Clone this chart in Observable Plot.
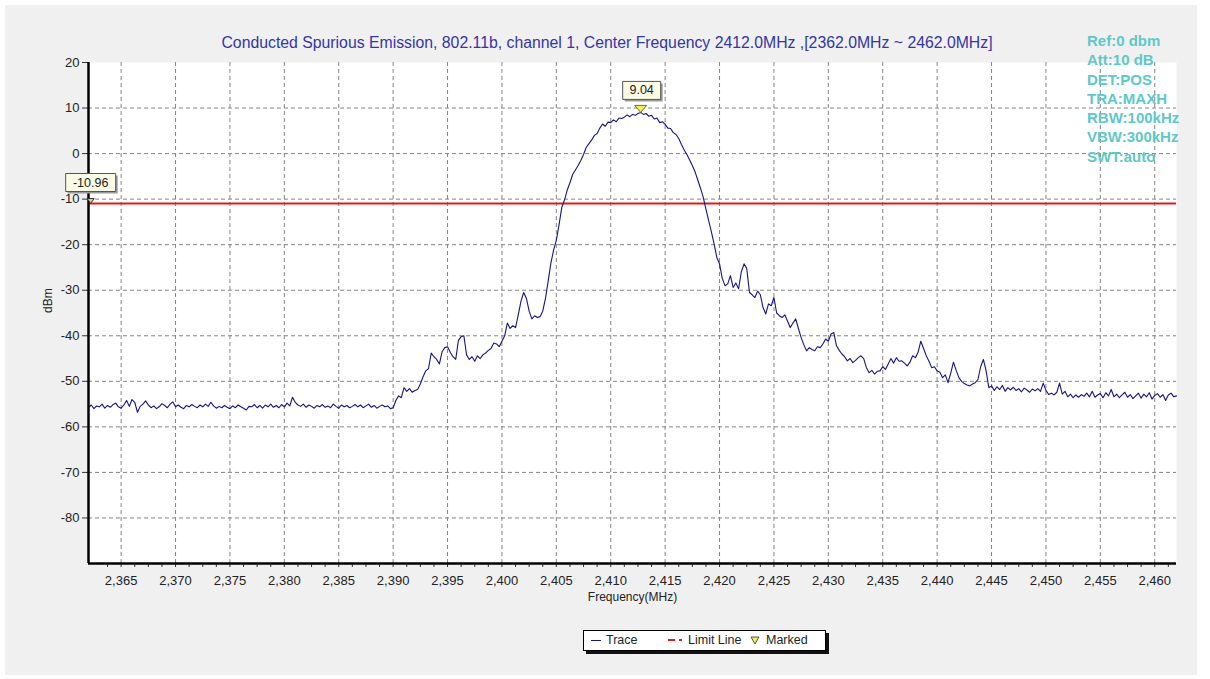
<!DOCTYPE html>
<html><head><meta charset="utf-8">
<script src="https://cdn.jsdelivr.net/npm/d3@7"></script>
<script src="https://cdn.jsdelivr.net/npm/@observablehq/plot@0.6"></script>
<style>
html,body{margin:0;padding:0;background:#fff;}
#wrap{position:relative;width:1210px;height:679px;overflow:hidden;font-family:Arial,"Liberation Sans",sans-serif;}
#bg{position:absolute;left:5px;top:5px;width:1192px;height:670px;background:#f0f0f0;}
#chart{position:absolute;left:0;top:0;}
#title{position:absolute;left:607px;top:34px;transform:translateX(-50%);white-space:nowrap;font-size:15.8px;color:#3535a8;}
#info{position:absolute;left:1087px;top:31px;font-size:15px;font-weight:bold;line-height:19.3px;color:#5ec8c9;white-space:nowrap;}
#legend{position:absolute;left:583px;top:630px;width:241px;height:19px;background:#fff;border:1px solid #000;box-shadow:3px 3px 0 #111;font-size:12.5px;color:#222;}
#legend span{position:absolute;top:2px;white-space:nowrap;}
</style></head>
<body>
<div id="wrap">
<div id="bg"></div>
<div id="chart"></div>
<div id="title"></div>
<div id="info"></div>
<div id="legend"></div>
</div>
<script>
// ---- data ----
const titleText = "Conducted Spurious Emission, 802.11b, channel 1, Center Frequency 2412.0MHz ,[2362.0MHz ~ 2462.0MHz]";
const infoLines = ["Ref:0 dbm","Att:10 dB","DET:POS","TRA:MAXH","RBW:100kHz","VBW:300kHz","SWT:auto"];
const freqStart = 2362;
const freqStep = 0.25;
const traceDbm = [
-55.8,-55.2,-56.0,-55.4,-55.6,-55.0,-55.9,-55.3,-55.7,-55.1,-54.8,-55.6,-55.9,-55.2,-54.2,-55.5,-54.0,-54.6,-56.8,-55.5,
-55.0,-54.3,-55.2,-55.8,-55.4,-56.0,-55.6,-54.9,-55.3,-55.8,-55.0,-54.5,-55.6,-55.2,-55.7,-56.0,-55.3,-55.6,-55.1,-55.5,
-55.8,-55.2,-55.6,-55.0,-55.5,-54.6,-55.4,-55.9,-55.5,-55.8,-55.3,-55.7,-56.0,-55.4,-55.8,-55.2,-55.6,-55.9,-56.3,-55.5,
-55.6,-55.1,-55.8,-55.3,-55.9,-55.2,-55.6,-55.0,-55.7,-55.3,-55.8,-55.1,-55.6,-54.8,-55.4,-53.5,-54.6,-55.2,-55.5,-55.0,
-55.7,-55.2,-55.5,-55.9,-55.3,-55.6,-55.1,-55.7,-55.4,-55.8,-55.0,-55.5,-55.9,-55.2,-55.6,-55.3,-55.8,-55.5,-55.1,-55.6,
-55.2,-55.8,-55.4,-55.0,-55.7,-55.3,-55.9,-55.5,-55.2,-55.6,-55.4,-56.0,-55.8,-54.2,-53.2,-53.6,-51.4,-52.2,-51.6,-52.4,
-52.0,-51.8,-50.6,-49.0,-47.7,-47.2,-43.8,-44.6,-45.2,-46.2,-43.5,-42.6,-42.4,-43.6,-44.6,-45.2,-41.0,-40.2,-40.0,-44.2,
-45.2,-44.6,-45.6,-44.4,-45.0,-44.2,-43.8,-43.2,-42.8,-41.6,-41.8,-42.4,-41.2,-40.0,-37.2,-38.4,-37.8,-38.2,-35.4,-32.4,
-30.5,-31.8,-34.6,-36.3,-35.6,-36.0,-35.8,-34.6,-31.8,-28.0,-24.0,-21.2,-19.0,-15.6,-11.8,-10.2,-8.0,-6.4,-4.6,-3.6,
-2.6,-1.5,-0.2,1.4,2.2,3.0,4.0,4.4,5.6,6.5,6.0,6.9,6.8,7.4,7.0,7.8,7.7,8.0,8.5,8.1,
8.6,8.4,8.8,9.04,8.6,8.8,8.2,8.4,7.6,7.8,6.8,7.0,6.4,5.6,5.5,4.6,4.2,3.3,2.0,0.8,
-0.2,-1.4,-2.6,-4.0,-5.8,-7.6,-9.6,-12.2,-14.7,-17.2,-19.8,-22.8,-24.2,-27.4,-29.0,-28.6,-26.8,-29.4,-28.4,-29.7,
-26.0,-24.2,-25.2,-30.5,-31.0,-31.6,-30.2,-31.0,-33.8,-35.2,-33.0,-33.4,-31.6,-35.0,-35.6,-36.0,-35.4,-36.8,-38.2,-37.2,
-36.3,-38.4,-40.4,-42.0,-43.3,-42.6,-43.0,-43.3,-42.4,-42.6,-41.8,-40.7,-41.2,-39.6,-39.3,-42.2,-43.2,-44.0,-44.6,-45.5,
-45.0,-45.9,-45.4,-44.8,-44.4,-45.0,-47.0,-48.1,-47.6,-48.4,-47.8,-47.7,-46.8,-47.4,-46.2,-45.0,-46.0,-44.8,-45.6,-45.5,
-46.0,-46.6,-45.8,-44.4,-44.8,-43.6,-41.2,-42.8,-44.4,-45.6,-47.0,-46.8,-47.7,-48.0,-49.2,-48.6,-50.3,-48.2,-45.8,-47.6,
-49.2,-50.0,-50.5,-50.8,-51.0,-50.6,-50.3,-49.6,-46.8,-45.2,-47.7,-51.4,-51.0,-52.0,-51.2,-51.8,-50.9,-52.2,-51.4,-51.9,
-51.3,-52.0,-51.6,-52.3,-51.5,-51.9,-52.4,-51.7,-52.1,-51.6,-52.2,-50.4,-52.0,-52.9,-52.6,-53.0,-52.4,-50.4,-52.8,-52.2,
-53.4,-52.8,-53.6,-53.0,-53.5,-52.9,-53.3,-52.6,-53.4,-52.2,-53.5,-53.0,-52.7,-53.6,-52.5,-53.2,-51.8,-53.4,-52.8,-53.6,
-53.0,-52.4,-53.5,-52.9,-53.8,-53.2,-52.6,-53.7,-52.8,-53.4,-52.5,-53.9,-53.1,-52.7,-53.5,-52.9,-54.2,-53.0,-52.6,-53.4,
-53.2
];
const limitDbm = -10.96;
const peakFreq = 2412.75, peakDbm = 9.04, peakLabel = "9.04";
const limitMarkFreq = 2362.2, limitMarkLabel = "-10.96";
const xMajorTicks = [2365,2370,2375,2380,2385,2390,2395,2400,2405,2410,2415,2420,2425,2430,2435,2440,2445,2450,2455,2460];
const xMinorTicks = [2363.75,2366.25,2367.5,2368.75,2371.25,2372.5,2373.75,2376.25,2377.5,2378.75,2381.25,2382.5,2383.75,2386.25,2387.5,2388.75,2391.25,2392.5,2393.75,2396.25,2397.5,2398.75,2401.25,2402.5,2403.75,2406.25,2407.5,2408.75,2411.25,2412.5,2413.75,2416.25,2417.5,2418.75,2421.25,2422.5,2423.75,2426.25,2427.5,2428.75,2431.25,2432.5,2433.75,2436.25,2437.5,2438.75,2441.25,2442.5,2443.75,2446.25,2447.5,2448.75,2451.25,2452.5,2453.75,2456.25,2457.5,2458.75,2461.25];
const yTicks = [20,10,0,-10,-20,-30,-40,-50,-60,-70,-80];
const xLabel = "Frequency(MHz)";
const yLabel = "dBm";
const legendItems = ["Trace","Limit Line","Marked"];

// ---- build ----
const trace = traceDbm.map((v,i) => ({f: freqStart + i*freqStep, v}));
const rectSym = (w,h) => ({draw(ctx){ ctx.rect(-w/2,-h/2,w,h); }});
const triSym = (w,h) => ({draw(ctx){ ctx.moveTo(-w/2,-h); ctx.lineTo(w/2,-h); ctx.lineTo(0,0); ctx.closePath(); }});
const peak = [{f: peakFreq, v: peakDbm, t: peakLabel}];
const lim = [{f: limitMarkFreq, v: limitDbm, t: limitMarkLabel}];

const chart = Plot.plot({
  width: 1210, height: 679,
  marginLeft: 88, marginRight: 34, marginTop: 62, marginBottom: 116,
  style: {background: "transparent", fontFamily: "Arial, 'Liberation Sans', sans-serif", fontSize: "13px", color: "#222"},
  x: {domain: [2362, 2462]},
  y: {domain: [-90, 20]},
  marks: [
    Plot.frame({fill: "white", stroke: "none"}),
    Plot.ruleX(xMajorTicks, {stroke: "#858585", strokeDasharray: "4,3", strokeWidth: 1}),
    Plot.ruleY(yTicks.filter(d => d < 20), {stroke: "#858585", strokeDasharray: "4,3", strokeWidth: 1}),
    Plot.ruleY([limitDbm], {stroke: "#e31a1c", strokeWidth: 2}),
    Plot.line(trace, {x: "f", y: "v", stroke: "#141487", strokeWidth: 1.1}),
    Plot.axisX(xMajorTicks, {tickFormat: d3.format(","), tickSize: 4, tickPadding: 8, fontSize: 13, label: null, stroke: "#333"}),
    Plot.axisX(xMinorTicks, {tickFormat: () => "", tickSize: 4, label: null, stroke: "#333"}),
    Plot.axisY(yTicks, {tickFormat: d => String(d), tickSize: 6, tickPadding: 3, fontSize: 13, label: null, stroke: "#333"}),
    Plot.ruleX([2362], {stroke: "#000", strokeWidth: 2.5}),
    Plot.ruleY([-90], {stroke: "#000", strokeWidth: 2.5}),
    Plot.text([yLabel], {frameAnchor: "left", dx: -40, rotate: -90, fontSize: 12, fill: "#222"}),
    Plot.text([xLabel], {frameAnchor: "bottom", dy: 37, fontSize: 12, fill: "#222"}),
    // peak marker
    Plot.dot(peak, {x: "f", y: "v", symbol: triSym(12,7), fill: "#f2ef5a", stroke: "#6e6e40", strokeWidth: 1, r: 5}),
    Plot.dot(peak, {x: "f", y: "v", dx: 3, dy: -20, symbol: rectSym(38,18), fill: "#9a9a9a", stroke: "none", r: 5}),
    Plot.dot(peak, {x: "f", y: "v", dx: 1, dy: -22, symbol: rectSym(38,18), fill: "#fbfbe6", stroke: "#555", strokeWidth: 1, r: 5}),
    Plot.text(peak, {x: "f", y: "v", text: "t", dx: 1, dy: -22, fontSize: 12.5, fill: "#222"}),
    // limit marker
    Plot.dot(lim, {x: "f", y: "v", symbol: triSym(7,5), fill: "#d8d060", stroke: "#333", strokeWidth: 1, r: 3}),
    Plot.dot(lim, {x: "f", y: "v", dx: 2, dy: -19, symbol: rectSym(50,18), fill: "#9a9a9a", stroke: "none", r: 5}),
    Plot.dot(lim, {x: "f", y: "v", dx: 0, dy: -21, symbol: rectSym(50,18), fill: "#fbfbe6", stroke: "#555", strokeWidth: 1, r: 5}),
    Plot.text(lim, {x: "f", y: "v", text: "t", dx: 0, dy: -21, fontSize: 12.5, fill: "#222"})
  ]
});
document.getElementById("chart").appendChild(chart);
document.getElementById("title").textContent = titleText;
document.getElementById("info").innerHTML = infoLines.map(s => `<div>${s}</div>`).join("");
const lg = document.getElementById("legend");
lg.innerHTML =
  `<span style="left:7px;top:9px;width:10px;height:1px;background:#141487"></span>` +
  `<span style="left:22px">${legendItems[0]}</span>` +
  `<span style="left:84px;top:8px;width:7px;height:2px;background:#e31a1c"></span>` +
  `<span style="left:95px;top:8px;width:3px;height:2px;background:#e31a1c"></span>` +
  `<span style="left:104px">${legendItems[1]}</span>` +
  `<span style="left:166px;top:3px"><svg width="10" height="10"><path d="M1,2 L9,2 L5,9 Z" fill="#f2ef5a" stroke="#555" stroke-width="1"/></svg></span>` +
  `<span style="left:182px">${legendItems[2]}</span>`;
</script>
</body></html>
